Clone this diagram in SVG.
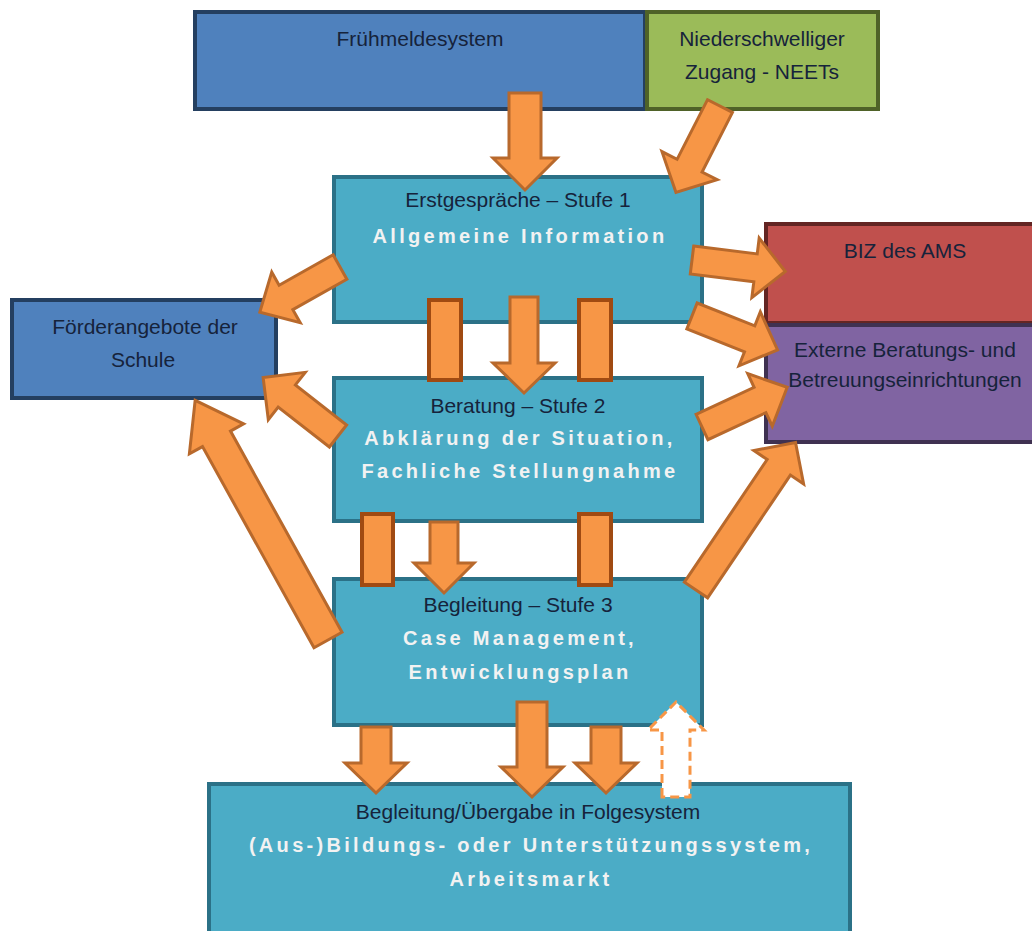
<svg xmlns="http://www.w3.org/2000/svg" width="1032" height="931" viewBox="0 0 1032 931">
<defs>
<style>
.box{stroke-width:4}
.blue{fill:#4f81bd;stroke:#243f60}
.green{fill:#9bbb59;stroke:#4f6228}
.teal{fill:#4bacc6;stroke:#2b7187}
.red{fill:#c0504d;stroke:#632523}
.purple{fill:#8064a2;stroke:#3f3151}
.t{font-family:"Liberation Sans",Arial,sans-serif;font-size:21px;fill:#16233b;text-anchor:middle}
.b{font-family:"Liberation Sans",Arial,sans-serif;font-size:20px;font-weight:bold;fill:#f2f2f2;text-anchor:middle;letter-spacing:3.3px}
.arr{fill:#f79646;stroke:#b8692c;stroke-width:3;stroke-linejoin:miter}
.bar{fill:#f79646;stroke:#a04a12;stroke-width:4}
.dash{fill:#ffffff;stroke:#f79646;stroke-width:3;stroke-dasharray:9 5}
</style>
</defs>
<rect width="1032" height="931" fill="#ffffff"/>

<g id="fruehmeldesystem">
<rect class="box blue" x="195" y="12" width="450" height="97"/>
<text class="t" x="420" y="46">Frühmeldesystem</text>
</g>
<g id="niederschwelliger-zugang">
<rect class="box green" x="647" y="12" width="231" height="97"/>
<text class="t" x="762" y="46">Niederschwelliger</text>
<text class="t" x="762" y="79">Zugang - NEETs</text>
</g>
<g id="stufe1">
<rect class="box teal" x="334" y="177" width="368" height="145"/>
<text class="t" x="518" y="207">Erstgespräche – Stufe 1</text>
<text class="b" x="520" y="243">Allgemeine Information</text>
</g>
<g id="stufe2">
<rect class="box teal" x="334" y="378" width="368" height="143"/>
<text class="t" x="518" y="413">Beratung – Stufe 2</text>
<text class="b" x="520" y="445">Abklärung der Situation,</text>
<text class="b" x="520" y="478">Fachliche Stellungnahme</text>
</g>
<g id="stufe3">
<rect class="box teal" x="334" y="579" width="368" height="146"/>
<text class="t" x="518" y="612">Begleitung – Stufe 3</text>
<text class="b" x="520" y="645">Case Management,</text>
<text class="b" x="520" y="679">Entwicklungsplan</text>
</g>
<g id="folgesystem">
<rect class="box teal" x="209" y="784" width="641" height="160"/>
<text class="t" x="528" y="819">Begleitung/Übergabe in Folgesystem</text>
<text class="b" x="531" y="852">(Aus-)Bildungs- oder Unterstützungssystem,</text>
<text class="b" x="531" y="886">Arbeitsmarkt</text>
</g>
<g id="biz-ams">
<rect class="box red" x="766" y="224" width="272" height="99"/>
<text class="t" x="905" y="258">BIZ des AMS</text>
</g>
<g id="externe-einrichtungen">
<rect class="box purple" x="766" y="325" width="272" height="117"/>
<text class="t" x="905" y="357">Externe Beratungs- und</text>
<text class="t" x="905" y="387">Betreuungseinrichtungen</text>
</g>
<g id="foerderangebote">
<rect class="box blue" x="12" y="300" width="264" height="98"/>
<text class="t" x="145" y="334">Förderangebote der</text>
<text class="t" x="143" y="367">Schule</text>
</g>

<g id="connectors">
<rect class="bar" x="429" y="300" width="32" height="80"/>
<rect class="bar" x="579" y="300" width="32" height="80"/>
<rect class="bar" x="362" y="514" width="31" height="71"/>
<rect class="bar" x="579" y="514" width="32" height="71"/>
<polygon class="arr" transform="translate(525,93) rotate(90)" points="0,-16 65,-16 65,-32 97,0 65,32 65,16 0,16"/>
<polygon class="arr" transform="translate(720,106) rotate(117)" points="0,-14 67,-14 67,-31 97,0 67,31 67,14 0,14"/>
<polygon class="arr" transform="translate(692,260) rotate(7)" points="0,-14 64,-14 64,-30 94,0 64,30 64,14 0,14"/>
<polygon class="arr" transform="translate(692,316) rotate(21.6)" points="0,-14 62,-14 62,-29 92,0 62,29 62,14 0,14"/>
<polygon class="arr" transform="translate(702,427) rotate(-25)" points="0,-14 64,-14 64,-29 94,0 64,29 64,14 0,14"/>
<polygon class="arr" transform="translate(696,590) rotate(-56)" points="0,-14 148,-14 148,-30 178,0 148,30 148,14 0,14"/>
<polygon class="arr" transform="translate(340,267) rotate(150.6)" points="0,-14 62,-14 62,-29 92,0 62,29 62,14 0,14"/>
<polygon class="arr" transform="translate(338,436) rotate(-142)" points="0,-14 65,-14 65,-30 95,0 65,30 65,14 0,14"/>
<polygon class="arr" transform="translate(328,640) rotate(-119)" points="0,-16 230,-16 230,-31 274,0 230,31 230,16 0,16"/>
<polygon class="arr" transform="translate(524,297) rotate(90)" points="0,-14 66,-14 66,-31 96,0 66,31 66,14 0,14"/>
<polygon class="arr" transform="translate(444,522) rotate(90)" points="0,-14 41,-14 41,-30 71,0 41,30 41,14 0,14"/>
<polygon class="arr" transform="translate(376,727) rotate(90)" points="0,-15 36,-15 36,-31 66,0 36,31 36,15 0,15"/>
<polygon class="arr" transform="translate(532,702) rotate(90)" points="0,-15 65,-15 65,-31 95,0 65,31 65,15 0,15"/>
<polygon class="arr" transform="translate(606,727) rotate(90)" points="0,-15 36,-15 36,-31 66,0 36,31 36,15 0,15"/>
<polygon class="dash" transform="translate(676,797) rotate(-90)" points="0,-14 67,-14 67,-28 95,0 67,28 67,14 0,14"/>
</g>
</svg>
